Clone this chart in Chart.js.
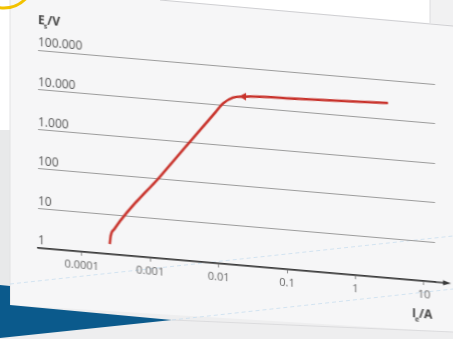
<!DOCTYPE html>
<html>
<head>
<meta charset="utf-8">
<script src="https://cdn.jsdelivr.net/npm/chart.js@4.4.0/dist/chart.umd.min.js"></script>
<style>
  html, body { margin: 0; padding: 0; width: 453px; height: 339px; overflow: hidden; background: #f6f6f7; }
  #bg { position: absolute; left: 0; top: 0; }
  #wrap { position: absolute; left: 0; top: 0; width: 453px; height: 339px;
          transform: skewY(4.9deg); transform-origin: 38px 0; }
</style>
</head>
<body>
<svg id="bg" width="453" height="339">
  <!-- white panel above the card -->
  <polygon points="0,0 160,0 430,23 430,0" fill="#ffffff"/>
  <polygon points="430,0 453,0 453,25 430,23" fill="#f1f1f2"/>
  <line x1="160" y1="0" x2="453" y2="26" stroke="#cfcfd2" stroke-width="1"/>
  <line x1="430" y1="0" x2="430" y2="23" stroke="#dcdcde" stroke-width="1"/>
  <!-- left strip -->
  <rect x="0" y="0" width="10" height="130" fill="#ffffff"/>
  <rect x="0" y="130" width="10" height="156" fill="#e8e9ea"/>
  <line x1="10" y1="0" x2="10" y2="305" stroke="#e2e2e4" stroke-width="1"/>
  <circle cx="4" cy="-22" r="30" fill="none" stroke="#f2c200" stroke-width="3"/>
  <!-- bottom -->
  <polygon points="10,305 453,332 453,339 0,339 0,300" fill="#eeeeef"/>
  <polygon points="0,285 10,286 10,305 172,320 0,338" fill="#0b5a8c"/>
  <line x1="172" y1="320" x2="453" y2="332" stroke="#dcdcde" stroke-width="1"/>
  <!-- faint reflections -->
  <line x1="10" y1="284" x2="453" y2="236" stroke="#c3dbee" stroke-width="0.7" stroke-dasharray="4 3"/>
  <line x1="172" y1="320" x2="453" y2="289" stroke="#c3dbee" stroke-width="0.7" stroke-dasharray="4 3"/>
</svg>
<div id="wrap"><canvas id="chart" width="453" height="339"></canvas></div>
<script>
// Kennlinie: Sekundärspannung über Erregerstrom (log-log)
const currentA = [2.57e-4, 2.65e-4, 3.0e-4, 1.41e-3, 8.97e-3, 0.0118, 0.0162, 0.0233, 0.148, 2.98];
const voltageV = [1.8, 2.9, 4.4, 120, 6460, 11500, 16700, 18600, 21400, 26300];
const arrowIndex = 7;

const xTicks = [0.0001, 0.001, 0.01, 0.1, 1, 10];
const xLabels = ['0.0001', '0.001', '0.01', '0.1', '1', '10'];
const yTicks = [1, 10, 100, 1000, 10000, 100000];
const yLabels = ['1', '10', '100', '1.000', '10.000', '100.000'];

Chart.defaults.font.family = '"Open Sans", "Noto Sans", sans-serif';

const red = '#c8322b';

// Achsentitel und Pfeil
const extras = {
  id: 'extras',
  afterDraw(chart) {
    const { ctx, chartArea: a } = chart;
    ctx.save();
    ctx.strokeStyle = '#3a3a3a';
    ctx.fillStyle = '#3a3a3a';
    ctx.lineWidth = 1.5;
    ctx.beginPath();
    ctx.moveTo(a.right, a.bottom);
    ctx.lineTo(a.right + 11, a.bottom);
    ctx.stroke();
    ctx.beginPath();
    ctx.moveTo(a.right + 16, a.bottom);
    ctx.lineTo(a.right + 8, a.bottom - 2.5);
    ctx.lineTo(a.right + 8, a.bottom + 2.5);
    ctx.closePath();
    ctx.fill();

    const sub = (x, y, main, s, rest) => {
      ctx.fillStyle = '#444';
      ctx.textBaseline = 'middle';
      ctx.textAlign = 'left';
      ctx.font = 'bold 12px "Open Sans", sans-serif';
      ctx.fillText(main, x, y);
      let w = ctx.measureText(main).width;
      ctx.font = 'bold 7px "Open Sans", sans-serif';
      ctx.fillText(s, x + w - 1, y + 5);
      w += ctx.measureText(s).width - 1;
      ctx.font = 'bold 12px "Open Sans", sans-serif';
      ctx.fillText(rest, x + w, y);
    };
    sub(a.left, 21, 'E', 's', '/V');
    sub(412, 282, 'I', 'e', '/A');
    ctx.restore();
  }
};

new Chart(document.getElementById('chart'), {
  type: 'line',
  data: {
    datasets: [{
      data: currentA.map((x, i) => ({ x: x, y: voltageV[i] })),
      borderColor: red,
      backgroundColor: red,
      borderWidth: 2.5,
      cubicInterpolationMode: 'monotone',
      pointStyle: 'triangle',
      pointRotation: 270,
      pointRadius: currentA.map((x, i) => i === arrowIndex ? 4.5 : 0),
      pointBorderWidth: 0
    }]
  },
  options: {
    responsive: false,
    animation: false,
    devicePixelRatio: 1,
    layout: { padding: { left: 38, top: 50, right: 18, bottom: 61 } },
    plugins: { legend: { display: false }, tooltip: { enabled: false } },
    scales: {
      x: {
        type: 'logarithmic',
        min: 2.3e-5,
        max: 14.5,
        afterBuildTicks: s => { s.ticks = xTicks.map(v => ({ value: v })); },
        afterFit: s => { s.height = 30; },
        border: { color: '#3a3a3a', width: 1.5 },
        grid: { drawOnChartArea: false, drawTicks: true, tickLength: 4, color: '#8a8a8a' },
        ticks: {
          color: '#666',
          font: { size: 11 },
          padding: 3,
          maxRotation: 0,
          autoSkip: false,
          callback: v => xLabels[xTicks.indexOf(v)] ?? ''
        }
      },
      y: {
        type: 'logarithmic',
        min: 1,
        max: 100000,
        afterBuildTicks: s => { s.ticks = yTicks.map(v => ({ value: v })); },
        afterFit: s => { s.width = 0; },
        border: { display: false },
        grid: { color: '#9c9c9c', lineWidth: 1, drawTicks: false },
        ticks: {
          mirror: true,
          padding: 0,
          labelOffset: -7,
          color: '#555',
          font: { size: 12 },
          autoSkip: false,
          callback: v => yLabels[yTicks.indexOf(v)] ?? ''
        }
      }
    }
  },
  plugins: [extras]
});
</script>
</body>
</html>
